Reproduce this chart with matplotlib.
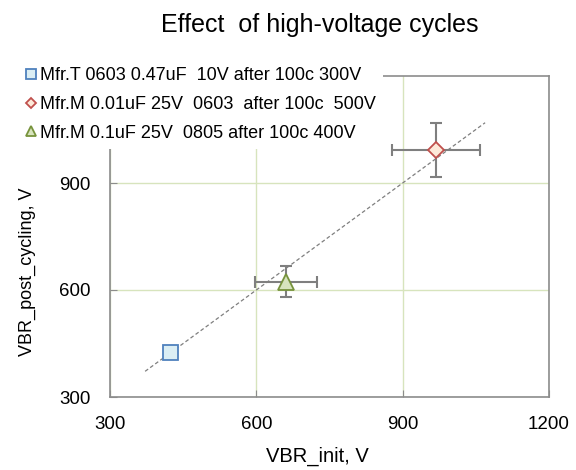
import matplotlib
matplotlib.use("Agg")
import matplotlib.pyplot as plt

plt.rcParams['font.family'] = ['Liberation Sans', 'DejaVu Sans']

labels = ["Mfr.T 0603 0.47uF  10V after 100c 300V",
          "Mfr.M 0.01uF 25V  0603  after 100c  500V",
          "Mfr.M 0.1uF 25V  0805 after 100c 400V"]
vbr_init = [424, 968, 661]
vbr_post = [426, 992, 623]
xerr = [0, 90, 63]
yerr = [0, 76, 44]
markers = ['s', 'D', '^']
faces = ['#dbeef4', '#fde9d9', '#d7e4bd']
edges = ['#4f81bd', '#c0504d', '#77933c']
msizes = [10.8, 8, 11.5]

ref_x = [372, 1069]
ref_y = [372, 1069]

xticks = [300, 600, 900, 1200]
yticks = [300, 600, 900]

W, H = 576, 470
fig = plt.figure(figsize=(W/100, H/100), dpi=100)
ax = fig.add_axes([110/W, 1-397/H, 439/W, 321/H])

ax.set_xlim(300, 1200)
ax.set_ylim(300, 1200)
ax.set_xticks(xticks)
ax.set_yticks(yticks)
ax.grid(True, color='#d7e4bd', linewidth=1.0)
ax.set_axisbelow(True)
for s in ax.spines.values():
    s.set_color('#8c8c8c')
    s.set_linewidth(1.2)
ax.tick_params(direction='in', length=5, color='#8c8c8c', labelsize=13.5, pad=14)

ax.plot(ref_x, ref_y, linestyle=(0, (3, 2)), color='#7f7f7f', linewidth=0.9, zorder=3)

handles = []
for i in range(3):
    if xerr[i] or yerr[i]:
        ax.errorbar(vbr_init[i], vbr_post[i], xerr=xerr[i], yerr=yerr[i], fmt='none',
                    ecolor='#7f7f7f', elinewidth=1.5, capsize=4, capthick=1.5, zorder=4)
    h, = ax.plot(vbr_init[i], vbr_post[i], marker=markers[i], markersize=msizes[i],
                 markerfacecolor=faces[i], markeredgecolor=edges[i], markeredgewidth=1.3,
                 linestyle='none', zorder=5, label=labels[i])
    handles.append(h)

leg = ax.legend(handles=handles, loc='upper left', bbox_to_anchor=(18/W, 1-60/H),
                bbox_transform=fig.transFigure, fontsize=13, markerscale=0.65,
                handlelength=0.6, handletextpad=0.2, labelspacing=0.65,
                borderpad=0.4, borderaxespad=0, frameon=True, fancybox=False)
leg.get_frame().set_facecolor('white')
leg.get_frame().set_edgecolor('none')
leg.get_frame().set_alpha(1)
leg.set_zorder(10)

ax.set_xlabel("VBR_init, V", fontsize=14.5)
ax.xaxis.set_label_coords((317-110)/439, (397-456)/321)
ax.set_ylabel("VBR_post_cycling, V", fontsize=13)
ax.yaxis.set_label_coords((27-110)/439, (397-272)/321)
for lab in (ax.xaxis.label, ax.yaxis.label):
    lab.set_va('center')
    lab.set_ha('center')

fig.text(320/W, 1-32/H, "Effect  of high-voltage cycles", ha='center', va='baseline', fontsize=18)

fig.savefig("out.png", dpi=100)
